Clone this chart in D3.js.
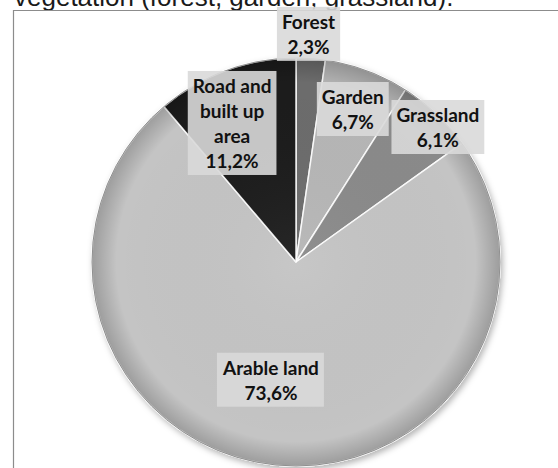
<!DOCTYPE html>
<html><head><meta charset="utf-8">
<script src="https://cdn.jsdelivr.net/npm/d3@7"></script>
<style>body{margin:0;background:#fff} svg{display:block}</style>
</head><body>
<svg id="chart" width="558" height="468"></svg>
<script>
// Land-use shares (%)
const categories = ["Forest", "Garden", "Grassland", "Arable land", "Road and built up area"];
const shares = [2.3, 6.7, 6.1, 73.6, 11.2];
const labelLines = [["Forest"], ["Garden"], ["Grassland"], ["Arable land"], ["Road and", "built up", "area"]];
const fills = ["#6c6c6c", "#b6b6b6", "#8a8a8a", "#c4c4c4", "#1f1f1f"];
// label placement: distance from centre as a fraction of the radius, angle nudge (deg)
const labelRadius = [1.12, 0.80, 0.96, 0.59, 0.75];
const labelNudge = [-1, 0, 3, 5, -4.5];

const svg = d3.select("#chart");
const W = 558, H = 468;
const cx = 296, cy = 262, R = 204;

// caption line above the frame
svg.append("text")
  .attr("x", 14).attr("y", 6)
  .attr("font-family", "'Liberation Sans', Arial, sans-serif")
  .attr("font-size", 26)
  .attr("fill", "#1a1a1a")
  .text("vegetation (forest, garden, grassland).");

// chart frame
svg.append("path")
  .attr("d", `M13.5,${H} V10.5 H${W}`)
  .attr("fill", "none")
  .attr("stroke", "#8c8c8c")
  .attr("stroke-width", 1.2);

const defs = svg.append("defs");
const shadow = defs.append("filter").attr("id", "pieShadow")
  .attr("x", "-10%").attr("y", "-10%").attr("width", "120%").attr("height", "120%");
shadow.append("feDropShadow")
  .attr("dx", 2).attr("dy", 3).attr("stdDeviation", 3)
  .attr("flood-color", "#000").attr("flood-opacity", 0.3);

const rim = defs.append("radialGradient").attr("id", "rimShade")
  .attr("cx", "50%").attr("cy", "50%").attr("r", "50%");
rim.append("stop").attr("offset", "0%").attr("stop-color", "#fff").attr("stop-opacity", 0.05);
rim.append("stop").attr("offset", "88%").attr("stop-color", "#000").attr("stop-opacity", 0);
rim.append("stop").attr("offset", "100%").attr("stop-color", "#000").attr("stop-opacity", 0.2);

const data = categories.map((c, i) => ({ name: c, value: shares[i], i }));
const pie = d3.pie().sort(null).value(d => d.value);
const arcs = pie(data);
const arc = d3.arc().innerRadius(0).outerRadius(R);

const g = svg.append("g").attr("transform", `translate(${cx},${cy})`);
const pieG = g.append("g").attr("filter", "url(#pieShadow)");

pieG.selectAll("path.slice")
  .data(arcs)
  .join("path")
  .attr("class", "slice")
  .attr("d", arc)
  .attr("fill", d => fills[d.data.i])
  .attr("stroke", "#ffffff")
  .attr("stroke-opacity", 0.9)
  .attr("stroke-width", 1.5)
  .attr("stroke-linejoin", "round");

// bevel-like darkening toward the rim
g.append("circle").attr("r", R)
  .attr("fill", "url(#rimShade)")
  .attr("stroke", "#8f8f8f")
  .attr("stroke-width", 1);

// data labels
const fmt = v => d3.format(".1f")(v).replace(".", ",") + "%";
const lineH = 25;

arcs.forEach(d => {
  const i = d.data.i;
  const mid = (d.startAngle + d.endAngle) / 2 + labelNudge[i] * Math.PI / 180;
  const r = R * labelRadius[i];
  const lx = r * Math.sin(mid), ly = -r * Math.cos(mid);
  const lines = labelLines[i].concat([fmt(d.data.value)]);
  const lg = g.append("g").attr("class", "label");
  const box = lg.append("rect");
  const t = lg.append("text")
    .attr("font-family", "Lato, 'Open Sans', sans-serif")
    .attr("font-weight", 700)
    .attr("font-size", 19)
    .attr("fill", "#111")
    .attr("text-anchor", "middle");
  lines.forEach((s, k) => {
    t.append("tspan")
      .attr("x", lx)
      .attr("y", ly + (k - (lines.length - 1) / 2) * lineH)
      .attr("dominant-baseline", "central")
      .text(s);
  });
  const bb = t.node().getBBox();
  box.attr("x", bb.x - 5).attr("y", bb.y - 3)
    .attr("width", bb.width + 10).attr("height", bb.height + 6)
    .attr("fill", "#d9d9d9").attr("fill-opacity", 0.9);
});
</script>
</body></html>
